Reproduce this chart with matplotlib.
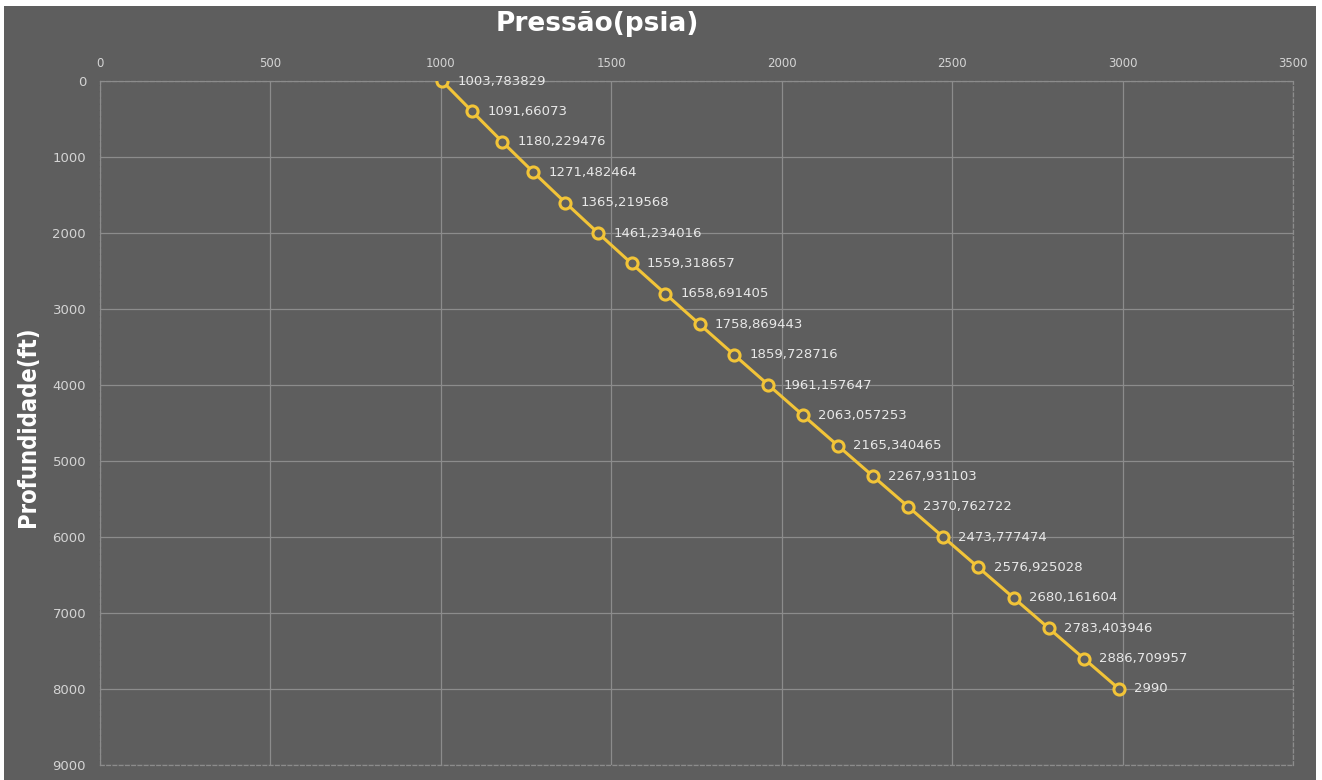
import matplotlib
matplotlib.use('Agg')
import matplotlib.pyplot as plt
from matplotlib.patches import Rectangle

# depth points (ft) and computed pressure (psia)
profundidade = [0, 400, 800, 1200, 1600, 2000, 2400, 2800, 3200, 3600, 4000,
                4400, 4800, 5200, 5600, 6000, 6400, 6800, 7200, 7600, 8000]
pressao = [1003.783829, 1091.66073, 1180.229476, 1271.482464, 1365.219568,
           1461.234016, 1559.318657, 1658.691405, 1758.869443, 1859.728716,
           1961.157647, 2063.057253, 2165.340465, 2267.931103, 2370.762722,
           2473.777474, 2576.925028, 2680.161604, 2783.403946, 2886.709957,
           2990.0]
x_ticks = [0, 500, 1000, 1500, 2000, 2500, 3000, 3500]
y_ticks = [0, 1000, 2000, 3000, 4000, 5000, 6000, 7000, 8000, 9000]

bg = '#5e5e5e'
grid_c = '#8c8c8c'
gold = '#f2c438'
txt = '#e8e8e8'

fig = plt.figure(figsize=(13.22, 7.80), dpi=100, facecolor='white')
# gray chart area inside a thin white border
fig.patches.append(Rectangle((4 / 1322, 0), 1312 / 1322, 774 / 780,
                             transform=fig.transFigure, facecolor=bg,
                             edgecolor='none', zorder=-1))

ax = fig.add_axes([100 / 1322, 1 - 765 / 780, 1193 / 1322, 684 / 780])
ax.set_zorder(2)
ax.set_facecolor(bg)

ax.plot(pressao, profundidade, color=gold, linewidth=2.2,
        marker='o', markersize=8, markerfacecolor=bg,
        markeredgecolor=gold, markeredgewidth=2.2, zorder=3)

for p, d in zip(pressao, profundidade):
    s = repr(p)
    if s.endswith('.0'):
        s = s[:-2]
    ax.annotate(s.replace('.', ','), (p, d), xytext=(11, 0),
                textcoords='offset points', va='center', ha='left',
                color=txt, fontsize=9.5, zorder=4)

ax.set_xlim(0, 3500)
ax.set_ylim(9000, 0)
ax.set_xticks(x_ticks)
ax.set_yticks(y_ticks)
ax.xaxis.tick_top()
ax.tick_params(axis='both', length=0, colors='#d4d4d4')
ax.tick_params(axis='x', pad=8, labelsize=8.5)
ax.tick_params(axis='y', pad=10, labelsize=9.5)
ax.grid(True, color=grid_c, linewidth=0.9)
ax.set_axisbelow(True)
for side in ax.spines.values():
    side.set_color(grid_c)
    side.set_linestyle((0, (3, 2)))
    side.set_linewidth(0.9)

fig.text(597 / 1322, 1 - 24 / 780, 'Pressão(psia)', ha='center', va='center',
         color='white', fontsize=19, fontweight='bold', zorder=5)
fig.text(28 / 1322, 1 - 427 / 780, 'Profundidade(ft)', ha='center', va='center',
         rotation=90, color='white', fontsize=17, fontweight='bold',
         fontstretch='condensed', zorder=5)

fig.savefig('out.png', dpi=100, facecolor=fig.get_facecolor())
